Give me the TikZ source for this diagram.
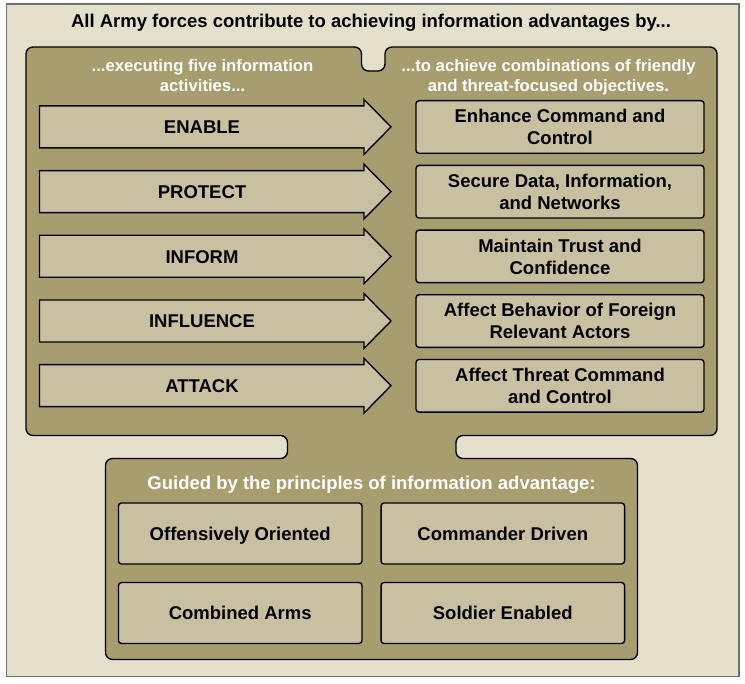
\documentclass[tikz,border=0pt]{standalone}
\usepackage{fontspec}
\setmainfont{Liberation Sans}
\definecolor{bgc}{RGB}{229,224,203}
\definecolor{olivec}{RGB}{167,157,110}
\definecolor{boxc}{RGB}{200,192,160}
\definecolor{framec}{RGB}{110,110,110}
\begin{document}
\begin{tikzpicture}[x=1pt,y=-1pt,
  txt/.style={font=\fontsize{18.5}{22}\selectfont\bfseries, align=center, inner sep=0pt, text depth=0pt},
  whitetxt/.style={txt, text=white},
  headtxt/.style={whitetxt, font=\fontsize{16.7}{20}\selectfont\bfseries},
  objbox/.style={txt, draw=black, line width=1.4pt, fill=boxc, rounded corners=3pt,
    minimum width=288pt, minimum height=52.6pt},
  prinbox/.style={txt, draw=black, line width=1.4pt, fill=boxc, rounded corners=3pt,
    minimum width=243.5pt, minimum height=61pt, text height=13.4pt},
  arrowshape/.style={draw=black, line width=1.4pt, fill=boxc, line join=miter},
  panel/.style={draw=black, line width=1.4pt, fill=olivec, rounded corners=7pt}
]
\useasboundingbox (0,0) rectangle (745,684);
\fill[white] (0,0) rectangle (745,684);
% outer frame
\draw[framec, line width=1.5pt, fill=bgc] (6.5,4) rectangle (739,676.5);
\node[txt] (title) at (371,20.5) {All Army forces contribute to achieving information advantages by...};

% combined panel
\draw[panel] (26,47) -- (361.5,47) -- (361.5,71) -- (385,71) -- (385,47) -- (717,47)
  -- (717,435.5) -- (456,435.5) -- (456,458.5) -- (637.5,458.5) -- (637.5,659.5)
  -- (105.5,659.5) -- (105.5,458.5) -- (287.5,458.5) -- (287.5,435.5) -- (26,435.5) -- cycle;

\node[headtxt] (headL) at (202.5,75) {...executing five information\\activities...};
\node[headtxt] (headR) at (548.5,75) {...to achieve combinations of friendly\\and threat-focused objectives.};

% activity arrows
\foreach \lab [count=\i from 0] in {ENABLE,PROTECT,INFORM,INFLUENCE,ATTACK}{
  \pgfmathsetmacro\cy{126.9+64.7*\i}
  \draw[arrowshape] (39.5,{\cy-21}) -- (364,{\cy-21}) -- (364,{\cy-27.4}) -- (391,\cy)
    -- (364,{\cy+27.4}) -- (364,{\cy+21}) -- (39.5,{\cy+21}) -- cycle;
  \node[txt] (act\i) at (202,{\cy+0.5}) {\lab};
}

% objectives
\node[objbox] (obj0) at (560,127.0) {Enhance Command and\\Control};
\node[objbox] (obj1) at (560,191.7) {Secure Data, Information,\\and Networks};
\node[objbox] (obj2) at (560,256.4) {Maintain Trust and\\Confidence};
\node[objbox] (obj3) at (560,321.1) {Affect Behavior of Foreign\\Relevant Actors};
\node[objbox] (obj4) at (560,385.8) {Affect Threat Command\\and Control};

% principles
\node[whitetxt] (guided) at (371.5,482.5) {Guided by the principles of information advantage:};
\node[prinbox] (p1) at (240.2,533.5) {Offensively Oriented};
\node[prinbox] (p2) at (502.8,533.5) {Commander Driven};
\node[prinbox] (p3) at (240.2,613) {Combined Arms};
\node[prinbox] (p4) at (502.8,613) {Soldier Enabled};
\end{tikzpicture}
\end{document}
